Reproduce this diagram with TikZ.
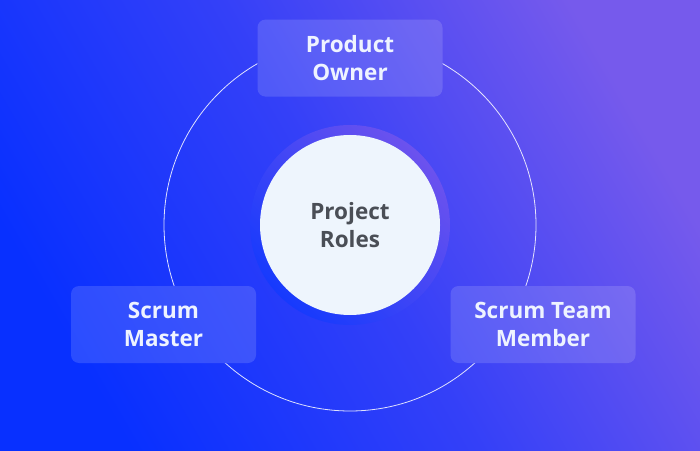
\documentclass[tikz,border=0pt]{standalone}
\usepackage{fontspec}
\setmainfont{Open Sans}
\usetikzlibrary{positioning,shadings,backgrounds}

\definecolor{bgblue}{RGB}{8,48,255}
\definecolor{bgmid}{RGB}{52,64,248}
\definecolor{bgpurple}{RGB}{118,90,236}
\definecolor{haloblue}{RGB}{22,58,253}
\definecolor{halopurple}{RGB}{108,82,238}
\definecolor{coreface}{RGB}{238,245,253}
\definecolor{coretext}{RGB}{74,78,86}
\definecolor{roletext}{RGB}{238,243,255}

\tikzstyle{backdrop} = [top color=bgpurple, bottom color=bgblue, middle color=bgmid, shading angle=-60]
\tikzstyle{rolebox} = [rounded corners=8pt, fill=white, fill opacity=0.14, text opacity=1,
  minimum width=185pt, minimum height=77pt, inner sep=0pt, align=center,
  text=roletext, font=\bfseries\fontsize{22.5}{28.5}\selectfont]
\tikzstyle{core} = [circle, fill=coreface, minimum size=180pt, inner sep=0pt, align=center,
  text=coretext, font=\bfseries\fontsize{22.5}{28.5}\selectfont]
\tikzstyle{halo} = [circle, minimum size=200pt, inner sep=0pt,
  top color=halopurple, bottom color=haloblue, shading angle=-45]
\tikzstyle{orbit} = [circle, draw=white, draw opacity=0.85, line width=0.8pt,
  minimum size=372pt, inner sep=0pt]

\begin{document}
\begin{tikzpicture}[x=1pt, y=1pt]
  \useasboundingbox (0,0) rectangle (700,450);

  % centre
  \coordinate (c) at (350,225);
  \node[halo] (glow) at (c) {};
  \node[core] (roles) at (c) {Project\\Roles};

  % the three roles
  \node[rolebox, above=38pt of roles] (po) {Product\\Owner};
  \node[rolebox] (sm) at (163.5,125.5) {Scrum\\Master};
  \node[rolebox] (stm) at (543,125.5) {Scrum Team\\Member};

  \begin{scope}[on background layer]
    \shade[backdrop] (0,0) rectangle (700,450);
    \node[orbit] (ring) at (c) {};
    % the ring runs behind the boxes
    \foreach \r in {po,sm,stm} {
      \begin{scope}
        \clip[rounded corners=8pt] (\r.south west) rectangle (\r.north east);
        \shade[backdrop] (0,0) rectangle (700,450);
      \end{scope}
    }
  \end{scope}
\end{tikzpicture}
\end{document}
